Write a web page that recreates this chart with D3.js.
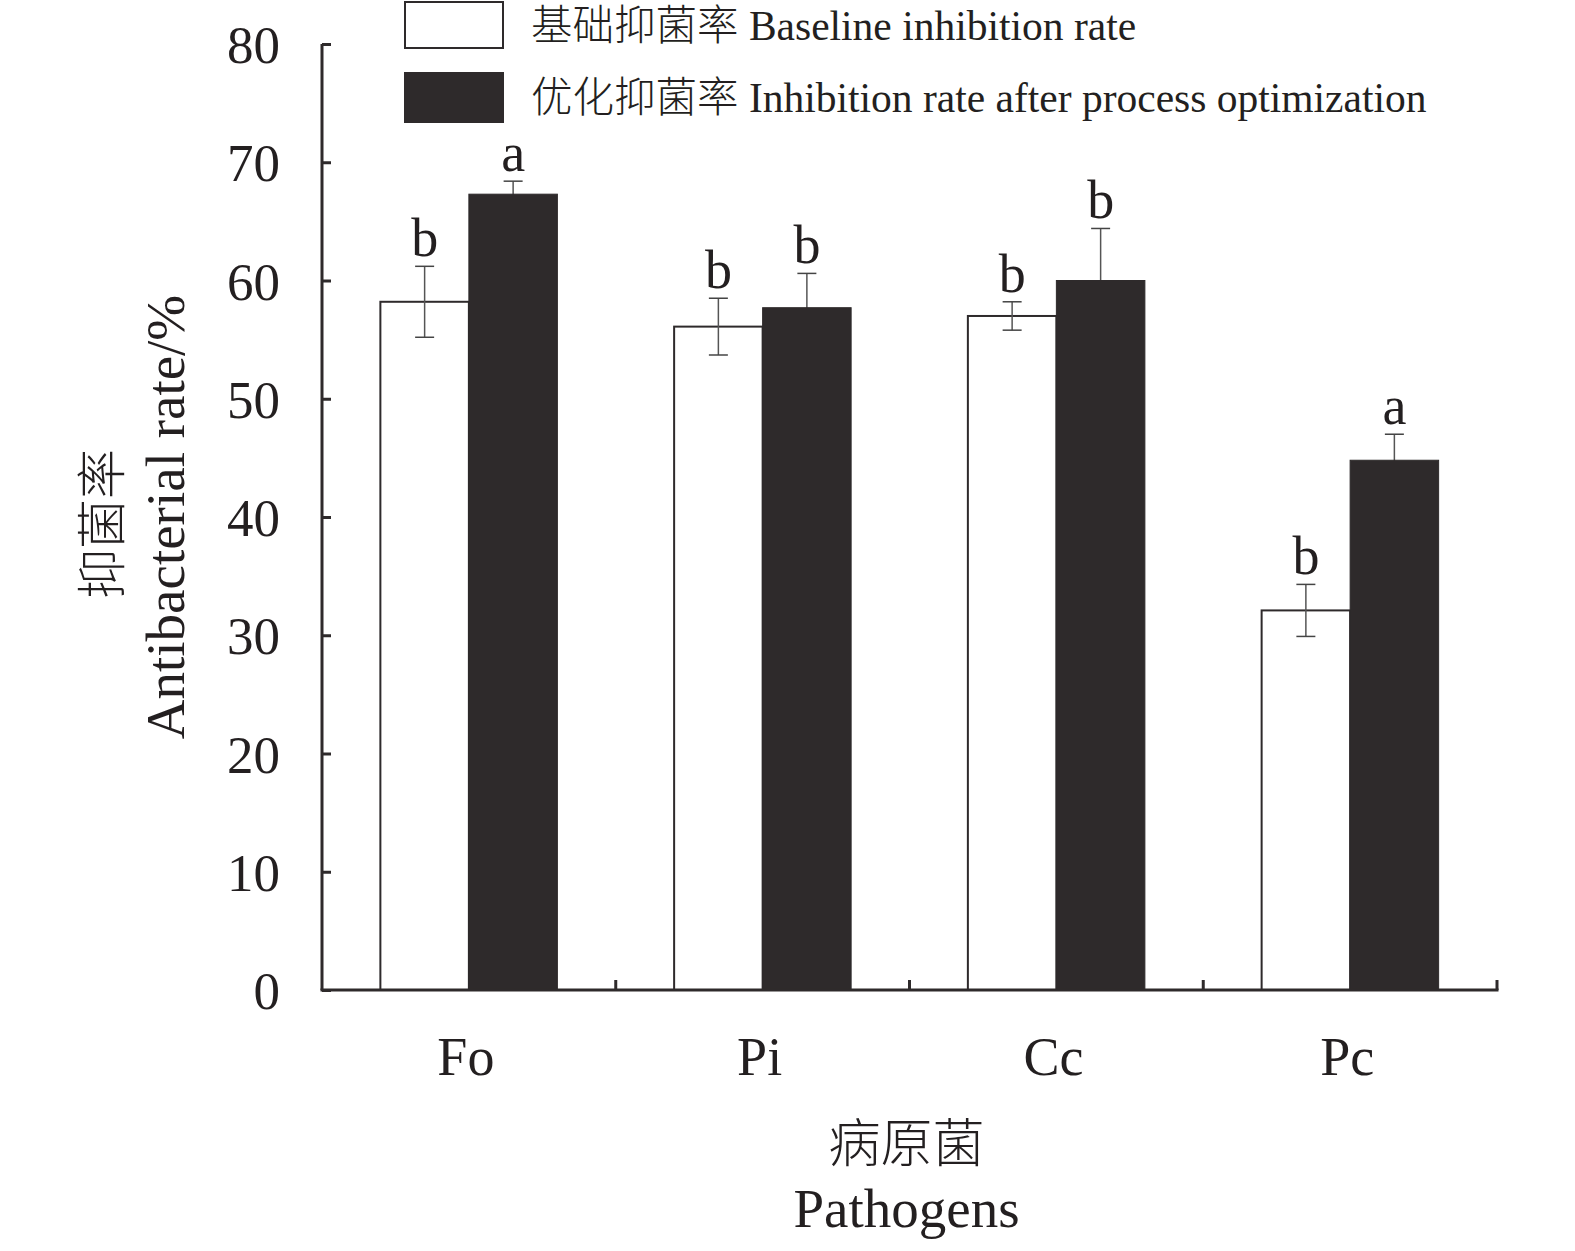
<!DOCTYPE html>
<html>
<head>
<meta charset="utf-8">
<script src="https://cdn.jsdelivr.net/npm/d3@7"></script>
<style>
  body { margin: 0; background: #fff; overflow: hidden; }
  svg { display: block; }
  text { font-family: "Liberation Serif", "Noto Sans CJK SC", serif; fill: #231f20; }
  .cjk { font-family: "Noto Sans CJK SC", sans-serif; font-weight: 300; }
</style>
</head>
<body>
<div id="chart"></div>
<script>
// data
var pathogens = ["Fo", "Pi", "Cc", "Pc"];
var baseline = [58.2, 56.1, 57.0, 32.1];
var baselineErr = [3.0, 2.4, 1.2, 2.2];
var optimized = [67.3, 57.7, 60.0, 44.8];
var optimizedErr = [1.1, 2.9, 4.4, 2.2];
var baselineSig = ["b", "b", "b", "b"];
var optimizedSig = ["a", "b", "b", "a"];
var yTicks = [0, 10, 20, 30, 40, 50, 60, 70, 80];

var seriesCn = ["基础抑菌率", "优化抑菌率"];
var seriesEn = ["Baseline inhibition rate", "Inhibition rate after process optimization"];
var colors = ["#ffffff", "#2e2a2b"];
var ink = "#2e2a2b";

var width = 1575, height = 1251;
var margin = { top: 44, right: 78, bottom: 261, left: 322 };
var chartW = width - margin.left - margin.right;
var chartH = height - margin.top - margin.bottom;

var svg = d3.select("#chart").append("svg")
  .attr("width", width)
  .attr("height", height);

var panel = svg.append("g")
  .attr("transform", "translate(" + margin.left + "," + margin.top + ")");

var xScale = d3.scaleBand().domain(pathogens).range([0, chartW]);
var yScale = d3.scaleLinear().domain([0, 80]).range([chartH, 0]);
var barW = 88.5;

// build rows for each series
var rows = [];
pathogens.forEach(function(p, i) {
  rows.push({ p: p, s: 0, v: baseline[i], e: baselineErr[i], sig: baselineSig[i] });
  rows.push({ p: p, s: 1, v: optimized[i], e: optimizedErr[i], sig: optimizedSig[i] });
});
function barX(d) { return xScale(d.p) + xScale.bandwidth() / 2 + (d.s === 0 ? -barW : 0); }
function midX(d) { return barX(d) + barW / 2; }

// white bars first, then error bars, then dark bars on top
function drawBars(s) {
  panel.selectAll("rect.s" + s)
    .data(rows.filter(function(d) { return d.s === s; }))
    .enter().append("rect")
    .attr("class", "s" + s)
    .attr("x", barX)
    .attr("y", function(d) { return yScale(d.v); })
    .attr("width", barW)
    .attr("height", function(d) { return chartH - yScale(d.v); })
    .attr("fill", colors[s])
    .attr("stroke", ink)
    .attr("stroke-width", s === 0 ? 2 : 1);
}
drawBars(0);

var err = panel.selectAll("g.err").data(rows).enter().append("g").attr("class", "err");
err.append("line")
  .attr("x1", midX).attr("x2", midX)
  .attr("y1", function(d) { return yScale(d.v + d.e); })
  .attr("y2", function(d) { return yScale(d.v - d.e); })
  .attr("stroke", "#555").attr("stroke-width", 1.5);
[1, -1].forEach(function(k) {
  err.append("line")
    .attr("x1", function(d) { return midX(d) - 9.5; })
    .attr("x2", function(d) { return midX(d) + 9.5; })
    .attr("y1", function(d) { return yScale(d.v + k * d.e); })
    .attr("y2", function(d) { return yScale(d.v + k * d.e); })
    .attr("stroke", "#444").attr("stroke-width", 1.5);
});

drawBars(1);

// significance letters
panel.selectAll("text.sig").data(rows).enter().append("text")
  .attr("class", "sig")
  .attr("x", midX)
  .attr("y", function(d) { return yScale(d.v + d.e) - 10; })
  .attr("text-anchor", "middle")
  .style("font-size", "54px")
  .text(function(d) { return d.sig; });

// y axis
var yAxis = d3.axisRight(yScale).tickValues(yTicks).tickSize(9).tickFormat(d3.format("d"));
var yg = panel.append("g").call(yAxis);
yg.select(".domain").attr("stroke", ink).attr("stroke-width", 3).attr("d", "M0," + chartH + "V0");
yg.selectAll(".tick line").attr("stroke", ink).attr("stroke-width", 3);
yg.selectAll(".tick text")
  .attr("x", -42).attr("text-anchor", "end").attr("dy", "0.35em")
  .style("font-size", "53px").attr("fill", ink);

// x axis, ticks at the band boundaries pointing up
var xg = panel.append("g").attr("transform", "translate(0," + chartH + ")");
xg.append("line").attr("x1", -1.5).attr("x2", chartW + 1.5).attr("stroke", ink).attr("stroke-width", 3);
xg.selectAll("line.bt").data(pathogens).enter().append("line")
  .attr("class", "bt")
  .attr("x1", function(d) { return xScale(d) + xScale.bandwidth(); })
  .attr("x2", function(d) { return xScale(d) + xScale.bandwidth(); })
  .attr("y1", 0).attr("y2", -10)
  .attr("stroke", ink).attr("stroke-width", 3);
xg.selectAll("text.cat").data(pathogens).enter().append("text")
  .attr("class", "cat")
  .attr("x", function(d) { return xScale(d) + xScale.bandwidth() / 2 - 3; })
  .attr("y", 85)
  .attr("text-anchor", "middle")
  .style("font-size", "54px")
  .text(function(d) { return d; });

// axis titles
svg.append("text")
  .attr("class", "cjk")
  .attr("x", margin.left + chartW / 2 - 3).attr("y", 1162)
  .attr("text-anchor", "middle").style("font-size", "52px")
  .text("病原菌");
svg.append("text")
  .attr("x", margin.left + chartW / 2 - 3).attr("y", 1227)
  .attr("text-anchor", "middle").style("font-size", "55px")
  .text("Pathogens");

svg.append("text")
  .attr("class", "cjk")
  .attr("transform", "translate(120,524) rotate(-90)")
  .attr("text-anchor", "middle").style("font-size", "50px")
  .text("抑菌率");
svg.append("text")
  .attr("transform", "translate(184,517) rotate(-90)")
  .attr("text-anchor", "middle").style("font-size", "55px")
  .text("Antibacterial rate/%");

// legend
for (var i = 0; i < 2; i++) {
  svg.append("rect")
    .attr("x", 405).attr("y", i === 0 ? 2 : 73)
    .attr("width", 98).attr("height", i === 0 ? 46 : 49)
    .attr("fill", colors[i]).attr("stroke", ink).attr("stroke-width", 2);
  var t = svg.append("text")
    .attr("x", 531).attr("y", i === 0 ? 40 : 112)
    .style("font-size", "41.5px");
  t.append("tspan").attr("class", "cjk").text(seriesCn[i]);
  t.append("tspan").text(" " + seriesEn[i]);
}
</script>
</body>
</html>
